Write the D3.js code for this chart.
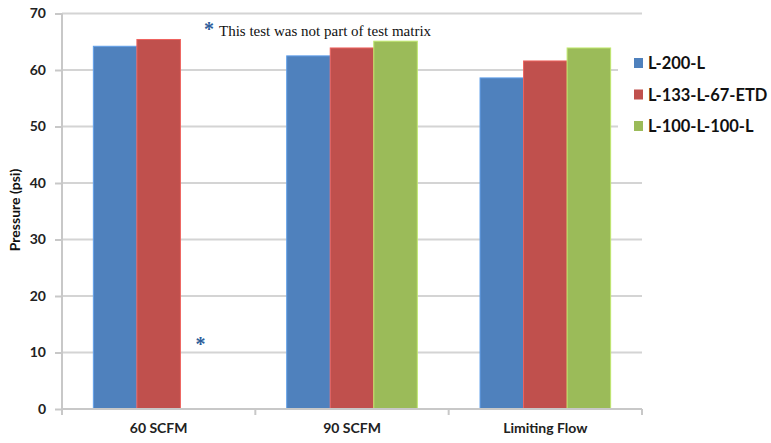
<!DOCTYPE html>
<html>
<head>
<meta charset="utf-8">
<script src="https://cdn.jsdelivr.net/npm/d3@7"></script>
<style>
  body { margin: 0; background: #fff; }
  .axis text { font-family: Lato, "Open Sans", sans-serif; font-weight: bold; font-size: 14px; fill: #222; }
</style>
</head>
<body>
<div class="vis-barchart"></div>
<script>
const categories = ['60 SCFM', '90 SCFM', 'Limiting Flow'];
const seriesNames = ['L-200-L', 'L-133-L-67-ETD', 'L-100-L-100-L'];
const seriesColors = ['#4f81bd', '#c0504d', '#9bbb59'];
// null = not tested
const l200 = [64.2, 62.5, 58.6];
const l133 = [65.4, 63.9, 61.6];
const l100 = [null, 65.1, 63.9];
const yTicks = [0, 10, 20, 30, 40, 50, 60, 70];

const seriesValues = [l200, l133, l100];

const W = 771, H = 443;
const margin = {top: 13.5, right: 129, bottom: 34, left: 62};
const width = W - margin.left - margin.right;
const height = H - margin.top - margin.bottom;

const svg = d3.select('.vis-barchart').append('svg')
    .attr('width', W)
    .attr('height', H);
const g = svg.append('g')
    .attr('transform', 'translate(' + margin.left + ',' + margin.top + ')');

const x = d3.scaleBand().domain(categories).range([0, width]).padding(0);
const x1 = d3.scaleBand().domain([0, 1, 2]).range([0, x.bandwidth()]).paddingInner(0).paddingOuter(0.72);
const y = d3.scaleLinear().domain([0, 70]).range([height, 0]);

// gridlines
g.selectAll('.grid').data(yTicks).enter().append('line')
    .attr('x1', 0).attr('x2', width)
    .attr('y1', d => y(d)).attr('y2', d => y(d))
    .attr('stroke', '#d4d4d4').attr('stroke-width', 2);

// bars
categories.forEach((c, i) => {
    seriesValues.forEach((vals, s) => {
        if (vals[i] == null) return;
        g.append('rect')
            .attr('x', x(c) + x1(s))
            .attr('y', y(vals[i]))
            .attr('width', x1.bandwidth())
            .attr('height', height - y(vals[i]))
            .attr('fill', seriesColors[s])
            .attr('stroke', d3.color(seriesColors[s]).brighter(0.6))
            .attr('stroke-width', 1);
    });
});

// y axis
const yAxis = g.append('g').attr('class', 'axis')
    .call(d3.axisLeft(y).tickValues(yTicks).tickSize(7).tickPadding(9));
yAxis.select('.domain').attr('stroke', '#c8c8c8').attr('stroke-width', 2).attr('d', 'M0,' + height + 'V0');
yAxis.selectAll('.tick line').attr('stroke', '#c8c8c8').attr('stroke-width', 2);

// x axis
const xAxis = g.append('g').attr('class', 'axis')
    .attr('transform', 'translate(0,' + height + ')')
    .call(d3.axisBottom(x).tickSize(0).tickPadding(14));
xAxis.select('.domain').attr('stroke', '#c8c8c8').attr('stroke-width', 2).attr('d', 'M0,0H' + width);
g.selectAll('.xsep').data(d3.range(categories.length + 1)).enter().append('line')
    .attr('x1', d => d * x.bandwidth()).attr('x2', d => d * x.bandwidth())
    .attr('y1', height).attr('y2', height + 6)
    .attr('stroke', '#c8c8c8').attr('stroke-width', 2);

// y label
svg.append('text')
    .attr('transform', 'translate(20,210) rotate(-90)')
    .attr('text-anchor', 'middle')
    .style('font-family', 'Lato, "Open Sans", sans-serif')
    .style('font-weight', 'bold')
    .style('font-size', '14px')
    .attr('fill', '#111')
    .text('Pressure (psi)');

// note
svg.append('text')
    .attr('x', 204).attr('y', 36)
    .style('font-family', '"Liberation Serif", serif')
    .style('font-size', '20px').style('font-weight', 'bold')
    .attr('fill', '#2e5d9a')
    .text('*');
svg.append('text')
    .attr('x', 219).attr('y', 36)
    .style('font-family', '"Liberation Serif", serif')
    .style('font-size', '15px')
    .attr('fill', '#111')
    .text('This test was not part of test matrix');
g.append('text')
    .attr('x', x(categories[0]) + x1(2) + 15).attr('y', y(11) + 4)
    .style('font-family', '"Liberation Serif", serif')
    .style('font-size', '20px').style('font-weight', 'bold')
    .attr('fill', '#2e5d9a')
    .text('*');

// legend (white box sits over the plot's right edge)
const legend = svg.append('g').attr('transform', 'translate(618,44)');
legend.append('rect')
    .attr('width', W - 618).attr('height', 102)
    .attr('fill', '#fff');
seriesNames.forEach((name, i) => {
    const ly = 19 + i * 31.5;
    legend.append('rect')
        .attr('x', 16).attr('y', ly - 5)
        .attr('width', 9).attr('height', 10)
        .attr('fill', seriesColors[i]);
    legend.append('text').attr('x', 30).attr('y', ly + 6)
        .style('font-family', 'Lato, "Open Sans", sans-serif')
        .style('font-weight', 'bold')
        .style('font-size', '16.5px')
        .attr('fill', '#111')
        .text(name);
});
</script>
</body>
</html>
